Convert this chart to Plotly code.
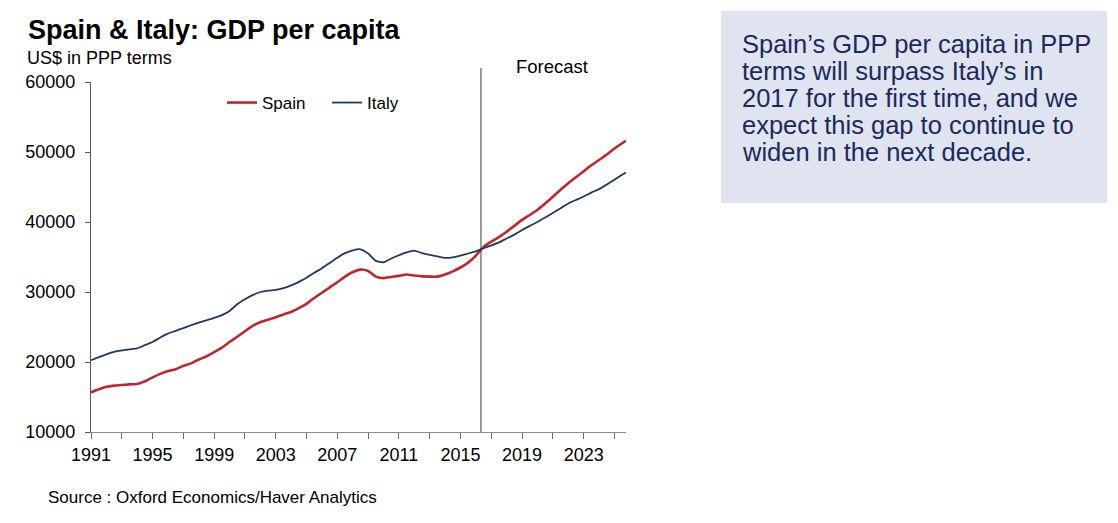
import plotly.graph_objects as go

# ---------------- data ----------------
years = [1991.0, 1991.5, 1992.0, 1992.5, 1993.0, 1993.5, 1994.0, 1994.5, 1995.0, 1995.5,
         1996.0, 1996.5, 1997.0, 1997.5, 1998.0, 1998.5, 1999.0, 1999.5, 2000.0, 2000.5,
         2001.0, 2001.5, 2002.0, 2002.5, 2003.0, 2003.5, 2004.0, 2004.5, 2005.0, 2005.5,
         2006.0, 2006.5, 2007.0, 2007.5, 2008.0, 2008.5, 2009.0, 2009.5, 2010.0, 2010.5,
         2011.0, 2011.5, 2012.0, 2012.5, 2013.0, 2013.5, 2014.0, 2014.5, 2015.0, 2015.5,
         2016.0, 2016.5, 2017.0, 2017.5, 2018.0, 2018.5, 2019.0, 2019.5, 2020.0, 2020.5,
         2021.0, 2021.5, 2022.0, 2022.5, 2023.0, 2023.5, 2024.0, 2024.5, 2025.0, 2025.5,
         2025.75]

spain = [15650, 16100, 16450, 16620, 16720, 16800, 16870, 17250, 17800, 18300,
         18700, 18970, 19450, 19800, 20350, 20800, 21400, 22050, 22850, 23600,
         24400, 25150, 25700, 26050, 26400, 26800, 27150, 27700, 28300, 29150,
         29900, 30650, 31400, 32200, 32850, 33200, 33000, 32200, 31980, 32150,
         32300, 32500, 32350, 32230, 32200, 32200, 32500, 32950, 33500, 34200,
         35200, 36450, 37200, 37850, 38600, 39450, 40300, 41000, 41750, 42650,
         43600, 44600, 45550, 46400, 47250, 48100, 48850, 49650, 50500, 51250,
         51600]

italy = [20250, 20700, 21100, 21450, 21650, 21800, 21950, 22400, 22850, 23500,
         24050, 24450, 24850, 25250, 25620, 25950, 26300, 26700, 27300, 28250,
         28950, 29550, 30000, 30200, 30300, 30550, 30950, 31450, 32050, 32750,
         33400, 34150, 34900, 35550, 35950, 36100, 35500, 34450, 34250, 34780,
         35250, 35650, 35900, 35550, 35300, 35100, 34880, 34950, 35200, 35500,
         35800, 36250, 36650, 37080, 37650, 38200, 38850, 39450, 40000, 40650,
         41300, 41950, 42650, 43150, 43650, 44200, 44700, 45350, 46050, 46750,
         47080]

x_tick_years = list(range(1991, 2026, 2))
x_label_years = list(range(1991, 2024, 4))
y_ticks = [10000, 20000, 30000, 40000, 50000, 60000]
forecast_start = 2016.33

title_text = "Spain & Italy: GDP per capita"
unit_text = "US$ in PPP terms"
source_text = "Source : Oxford Economics/Haver Analytics"
box_lines = ["Spain\u2019s GDP per capita in PPP",
             "terms will surpass Italy\u2019s in",
             "2017 for the first time, and we",
             "expect this gap to continue to",
             "widen in the next decade."]

# ---------------- layout geometry ----------------
W, H = 1118, 523
L, R, T, B = 91, 626, 82, 432  # plot area in pixels
FONT = "Arial, 'Liberation Sans', sans-serif"


def px(xp):
    return (xp - L) / (R - L)


def py(yp):
    return (B - yp) / (B - T)


fig = go.Figure()
fig.add_trace(go.Scatter(x=years, y=spain, name="Spain", mode="lines",
                         line=dict(color="#C0262D", width=2.6, shape="spline", smoothing=0.6)))
fig.add_trace(go.Scatter(x=years, y=italy, name="Italy", mode="lines",
                         line=dict(color="#1F3864", width=1.8, shape="spline", smoothing=0.6)))

ticktext = [str(y) if y in x_label_years else "" for y in x_tick_years]

fig.update_layout(
    width=W, height=H,
    margin=dict(l=L, r=W - R, t=T, b=H - B, pad=0),
    paper_bgcolor="white", plot_bgcolor="white",
    font=dict(family=FONT, color="#000000", size=18),
    showlegend=True,
    legend=dict(orientation="h", x=px(222), y=py(103), xanchor="left", yanchor="middle",
                font=dict(size=17, color="#000000"), bgcolor="rgba(0,0,0,0)",
                entrywidth=60, entrywidthmode="pixels", itemwidth=30),
    xaxis=dict(range=[1991, 2025.75], tickvals=x_tick_years, ticktext=ticktext,
               showgrid=False, zeroline=False, showline=True, linecolor="#8c8c8c", linewidth=1,
               ticks="outside", ticklen=6, tickcolor="#6e6e6e", tickwidth=1,
               tickfont=dict(size=18, color="#000000")),
    yaxis=dict(range=[10000, 60000], tickvals=y_ticks, ticktext=[str(v) for v in y_ticks],
               showgrid=False, zeroline=False, showline=True, linecolor="#595959", linewidth=1,
               ticks="outside", ticklen=5, tickcolor="#595959", tickwidth=1,
               tickfont=dict(size=18, color="#000000"), ticklabelstandoff=6),
)

# forecast divider
fig.add_shape(type="line", xref="x", yref="paper", x0=forecast_start, x1=forecast_start,
              y0=0, y1=py(68), line=dict(color="#3a3a3a", width=1))

# text box
fig.add_shape(type="rect", xref="paper", yref="paper", x0=px(721), x1=px(1107),
              y0=py(11), y1=py(203), fillcolor="#DFE4F0", line=dict(width=0), layer="below")

annotations = [
    dict(text="<b>" + title_text + "</b>", x=px(26), y=py(30), font=dict(size=27, color="#000000")),
    dict(text=unit_text, x=px(25), y=py(58), font=dict(size=18, color="#000000")),
    dict(text="Forecast", x=px(514), y=py(67), font=dict(size=18.5, color="#000000")),
    dict(text=source_text, x=px(46), y=py(497), font=dict(size=17, color="#000000")),
]
for i, line in enumerate(box_lines):
    annotations.append(dict(text=line, x=px(740), y=py(44 + 27 * i),
                            font=dict(size=25.5, color="#1B2A5C")))

for a in annotations:
    fig.add_annotation(xref="paper", yref="paper", xanchor="left", yanchor="middle",
                       showarrow=False, **a)

fig.write_html("out.html")
